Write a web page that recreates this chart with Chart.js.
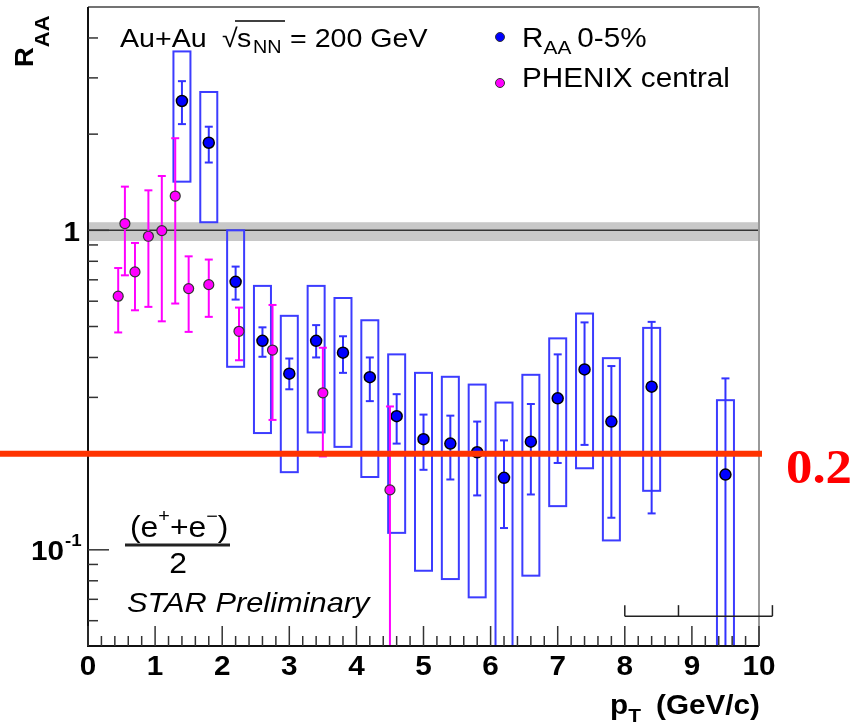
<!DOCTYPE html>
<html>
<head>
<meta charset="utf-8">
<script src="https://cdn.jsdelivr.net/npm/chart.js@4.4.1/dist/chart.umd.min.js"></script>
<style>
  body { margin: 0; background: #fff; }
  #raa { display: block; }
</style>
</head>
<body>
<canvas id="raa" width="856" height="728"></canvas>
<script>
// STAR non-photonic electrons, R_AA in 0-5% Au+Au, with PHENIX central points
const starPt    = [1.4, 1.8, 2.2, 2.6, 3.0, 3.4, 3.8, 4.2, 4.6, 5.0, 5.4, 5.8, 6.2, 6.6, 7.0, 7.4, 7.8, 8.4, 9.5];
const starRaa   = [2.54, 1.88, 0.69, 0.451, 0.356, 0.451, 0.414, 0.347, 0.262, 0.222, 0.215, 0.202, 0.168, 0.218, 0.298, 0.367, 0.252, 0.324, 0.172];
const starStatHi = [2.93, 2.11, 0.77, 0.497, 0.397, 0.505, 0.466, 0.40, 0.307, 0.265, 0.263, 0.252, 0.220, 0.286, 0.409, 0.515, 0.376, 0.517, 0.344];
const starStatLo = [2.15, 1.63, 0.607, 0.402, 0.318, 0.40, 0.358, 0.292, 0.215, 0.178, 0.166, 0.148, 0.117, 0.149, 0.187, 0.213, 0.126, 0.13, 0.03];
const starSysHi = [3.63, 2.71, 1.0, 0.67, 0.54, 0.67, 0.614, 0.523, 0.409, 0.358, 0.348, 0.329, 0.289, 0.353, 0.459, 0.549, 0.398, 0.495, 0.294];
const starSysLo = [1.42, 1.06, 0.374, 0.232, 0.175, 0.233, 0.21, 0.169, 0.113, 0.086, 0.081, 0.071, 0.03, 0.083, 0.137, 0.18, 0.107, 0.153, 0.03];

const phenixPt  = [0.45, 0.55, 0.7, 0.9, 1.1, 1.3, 1.5, 1.8, 2.25, 2.75, 3.5, 4.5];
const phenixRaa = [0.622, 1.05, 0.741, 0.958, 0.998, 1.28, 0.657, 0.676, 0.483, 0.422, 0.310, 0.154];
const phenixHi  = [0.762, 1.37, 0.913, 1.334, 1.479, 1.942, 0.829, 0.81, 0.573, 0.584, 0.429, 0.281];
const phenixLo  = [0.479, 0.723, 0.562, 0.576, 0.519, 0.59, 0.481, 0.536, 0.392, 0.255, 0.196, 0.03];

// axis ticks
const xLabels = [0, 1, 2, 3, 4, 5, 6, 7, 8, 9, 10];
const xMinor = [];
for (let i = 0; i <= 50; i++) xMinor.push(i / 5);
const yMajor = [0.1, 1];
const yMinor = [0.06, 0.07, 0.08, 0.09, 0.2, 0.3, 0.4, 0.5, 0.6, 0.7, 0.8, 0.9, 2, 3, 4];

// normalisation band around 1, the 0.2 marker line, the little pT scale bar
const unityBand = [0.926, 1.06];
const markLevel = 0.2;
const barTicks = [8, 8.8, 10.2];
const barLevel = 0.062;

const STRETCH = 1.1;
const SANS = '"Liberation Sans", Arial, Helvetica, sans-serif';

function text(ctx, s, x, y, font, color, align) {
  ctx.save();
  ctx.font = font;
  ctx.fillStyle = color || '#000';
  ctx.textAlign = align || 'left';
  ctx.translate(x, y);
  ctx.scale(STRETCH, 1);
  ctx.fillText(s, 0, 0);
  const w = ctx.measureText(s).width * STRETCH;
  ctx.restore();
  return w;
}

function line(ctx, x1, y1, x2, y2, color, w) {
  ctx.strokeStyle = color;
  ctx.lineWidth = w;
  ctx.beginPath();
  ctx.moveTo(x1, y1);
  ctx.lineTo(x2, y2);
  ctx.stroke();
}

const rootStyle = {
  id: 'rootStyle',
  beforeDatasetsDraw(chart) {
    const {ctx, chartArea: a, scales: {y}} = chart;
    ctx.save();
    ctx.fillStyle = '#c8c8c8';
    const t = y.getPixelForValue(unityBand[1]), b = y.getPixelForValue(unityBand[0]);
    ctx.fillRect(a.left, t, a.right - a.left, b - t);
    line(ctx, a.left, y.getPixelForValue(1), a.right, y.getPixelForValue(1), '#333', 1.5);
    ctx.restore();
  },
  beforeDatasetDraw(chart, args) {
    const ds = chart.data.datasets[args.index];
    const {ctx, chartArea: a, scales: {x, y}} = chart;
    ctx.save();
    ctx.beginPath();
    ctx.rect(a.left, a.top, a.right - a.left, a.bottom - a.top);
    ctx.clip();
    ds.data.forEach((p, i) => {
      const px = x.getPixelForValue(p.x);
      if (ds.sysHi) {
        const t = y.getPixelForValue(ds.sysHi[i]), b = y.getPixelForValue(ds.sysLo[i]);
        ctx.strokeStyle = ds.boxColor;
        ctx.lineWidth = 2;
        ctx.strokeRect(px - 8.5, t, 17, b - t);
      }
      const t = y.getPixelForValue(ds.errHi[i]), b = y.getPixelForValue(ds.errLo[i]);
      line(ctx, px, t, px, b, ds.errColor, 2);
      line(ctx, px - 4, t, px + 4, t, ds.errColor, 2);
      line(ctx, px - 4, b, px + 4, b, ds.errColor, 2);
    });
    ctx.restore();
  },
  afterDatasetsDraw(chart) {
    const {ctx, chartArea: a, scales: {x, y}} = chart;
    ctx.save();

    // frame
    line(ctx, a.left, a.top, a.right, a.top, '#444', 1.5);
    line(ctx, a.right, a.top, a.right, a.bottom, '#999', 2);
    line(ctx, a.left, a.top, a.left, a.bottom + 1, '#111', 2);
    line(ctx, a.left - 1, a.bottom, a.right, a.bottom, '#111', 2);

    // ticks drawn inward, ROOT style
    xMinor.forEach(v => {
      const px = x.getPixelForValue(v);
      const len = Number.isInteger(v) ? 20 : 10;
      line(ctx, px, a.bottom, px, a.bottom - len, '#333', 1.5);
    });
    yMinor.concat(yMajor).forEach(v => {
      const py = y.getPixelForValue(v);
      const len = yMajor.includes(v) ? 21 : 10;
      line(ctx, a.left, py, a.left + len, py, '#333', 1.5);
    });

    // tick labels
    const tickFont = 'bold 27px ' + SANS;
    xLabels.forEach(v => text(ctx, String(v), x.getPixelForValue(v), 675, tickFont, '#000', 'center'));
    text(ctx, '1', 80, y.getPixelForValue(1) + 11, tickFont, '#000', 'right');
    const p01 = y.getPixelForValue(0.1);
    text(ctx, '10', 64, p01 + 10, tickFont, '#000', 'right');
    text(ctx, '-1', 65, p01 - 4, 'bold 17px ' + SANS);

    // axis titles
    const w = text(ctx, 'p', 610, 714, 'bold 27px ' + SANS);
    text(ctx, 'T', 610 + w, 722, 'bold 19px ' + SANS);
    text(ctx, '(GeV/c)', 760, 714, 'bold 27px ' + SANS, '#000', 'right');

    ctx.save();
    ctx.translate(33, 67);
    ctx.rotate(-Math.PI / 2);
    const wr = text(ctx, 'R', 0, 0, 'bold 25px ' + SANS);
    text(ctx, 'AA', wr, 16, 'bold 20px ' + SANS);
    ctx.restore();

    // collision system
    const f = '26px ' + SANS;
    text(ctx, 'Au+Au', 120, 47, f);
    text(ctx, '\u221A', 222, 47, f);
    line(ctx, 235, 21, 285, 21, '#000', 1.5);
    text(ctx, 's', 237, 47, f);
    text(ctx, 'NN', 253, 53, '18px ' + SANS);
    text(ctx, '= 200 GeV', 290, 47, f);

    // legend
    const lf = '27px ' + SANS;
    [['#0000ff', 37], ['#ff00ff', 83]].forEach(([c, py]) => {
      ctx.beginPath();
      ctx.arc(500, py, 4.5, 0, Math.PI * 2);
      ctx.fillStyle = c;
      ctx.fill();
      ctx.strokeStyle = '#333';
      ctx.lineWidth = 1;
      ctx.stroke();
    });
    const wR = text(ctx, 'R', 522, 47, lf);
    const wA = text(ctx, 'AA', 522 + wR, 54, '19px ' + SANS);
    text(ctx, '0-5%', 522 + wR + wA + 6, 47, lf);
    text(ctx, 'PHENIX central', 522, 87, lf);

    // (e+ + e-)/2 and preliminary tag
    const ef = '29px ' + SANS;
    let cx = 130;
    cx += text(ctx, '(e', cx, 537, ef);
    cx += text(ctx, '+', cx, 522, '18px ' + SANS);
    cx += text(ctx, '+e', cx, 537, ef);
    cx += text(ctx, '\u2212', cx, 522, '18px ' + SANS);
    text(ctx, ')', cx, 537, ef);
    line(ctx, 125, 545, 230, 545, '#222', 3);
    text(ctx, '2', 178, 573, ef, '#000', 'center');
    text(ctx, 'STAR Preliminary', 127, 612, 'italic 28px ' + SANS);

    // pT scale bar below the points
    const by = y.getPixelForValue(barLevel);
    line(ctx, x.getPixelForValue(barTicks[0]), by, x.getPixelForValue(barTicks[barTicks.length - 1]), by, '#222', 1.5);
    barTicks.forEach(v => line(ctx, x.getPixelForValue(v), by, x.getPixelForValue(v), by - 11, '#222', 1.5));

    // 0.2 marker
    const ry = y.getPixelForValue(markLevel);
    line(ctx, 0, ry, a.right + 3, ry, '#ff3300', 6);
    text(ctx, String(markLevel), 786, 483, 'bold 48px "Liberation Serif", "Times New Roman", serif', '#ff0000');

    ctx.restore();
  }
};

new Chart(document.getElementById('raa'), {
  type: 'scatter',
  data: {
    datasets: [
      {
        label: 'PHENIX central',
        data: phenixPt.map((v, i) => ({x: v, y: phenixRaa[i]})),
        errHi: phenixHi,
        errLo: phenixLo,
        errColor: '#ff00ff',
        pointRadius: 5,
        pointBackgroundColor: '#ff00ff',
        pointBorderColor: '#333',
        pointBorderWidth: 1.2,
        order: 1
      },
      {
        label: 'R_AA 0-5%',
        data: starPt.map((v, i) => ({x: v, y: starRaa[i]})),
        errHi: starStatHi,
        errLo: starStatLo,
        sysHi: starSysHi,
        sysLo: starSysLo,
        errColor: '#3333ff',
        boxColor: '#3c3cff',
        pointRadius: 5.5,
        pointBackgroundColor: '#0000ff',
        pointBorderColor: '#000',
        pointBorderWidth: 1.5,
        order: 2
      }
    ]
  },
  options: {
    responsive: false,
    animation: false,
    devicePixelRatio: 1,
    layout: {padding: {left: 88, top: 5, right: 97, bottom: 82}},
    scales: {
      x: {type: 'linear', min: 0, max: 10, display: false},
      y: {type: 'logarithmic', min: 0.05, max: 5, display: false}
    },
    plugins: {legend: {display: false}, tooltip: {enabled: false}}
  },
  plugins: [rootStyle]
});
</script>
</body>
</html>
